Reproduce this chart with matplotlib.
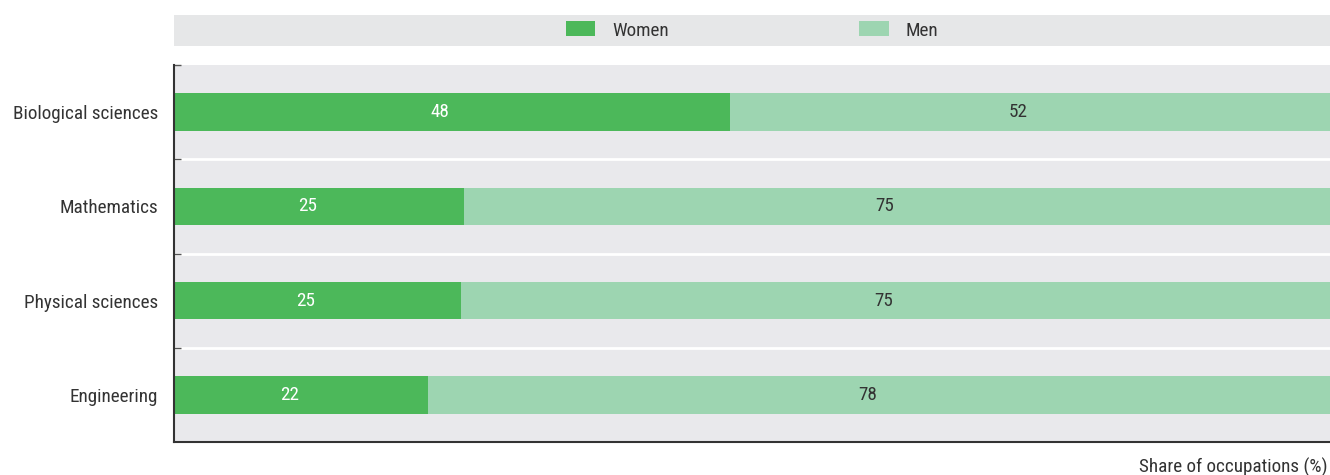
import numpy as np
import matplotlib.pyplot as plt
from matplotlib.patches import Rectangle, Patch
from matplotlib import font_manager

# -----------------------------
# Data
# -----------------------------
fields = ["Biological sciences", "Mathematics", "Physical sciences", "Engineering"]
women = [48.1, 25.1, 24.8, 22.0]
men = [51.9, 74.9, 75.2, 78.0]
women_labels = ["48", "25", "25", "22"]
men_labels = ["52", "75", "75", "78"]

# -----------------------------
# Style
# -----------------------------
names = {f.name for f in font_manager.fontManager.ttflist}
family = ["Roboto", "DejaVu Sans"]
for cand in ["Roboto Condensed", "Liberation Sans Narrow"]:
    if cand in names:
        family = [cand, "DejaVu Sans"]
        break
plt.rcParams["font.family"] = family
fs = 13.8
plt.rcParams["font.size"] = fs

c_women = "#4cb85a"
c_men = "#9dd5b1"
bg = "#e9e9ec"
txt = "#333333"

fig = plt.figure(figsize=(13.3, 4.75), dpi=100)
ax = fig.add_axes([174 / 1330, 1 - 442 / 475, 1 - 174 / 1330, 377 / 475])
ax.set_facecolor(bg)

y = np.arange(len(fields))
ax.barh(y, women, height=0.4, color=c_women, zorder=2)
ax.barh(y, men, left=women, height=0.4, color=c_men, zorder=2)

# value labels sit a little left of the segment centre
for i in range(len(fields)):
    ax.annotate(women_labels[i], (women[i] / 2, y[i]), xytext=(-8.6, 0),
                textcoords="offset points", ha="center", va="center",
                color="white", fontsize=fs, zorder=3)
    ax.annotate(men_labels[i], (women[i] + men[i] / 2, y[i]), xytext=(-8.6, 0),
                textcoords="offset points", ha="center", va="center",
                color=txt, fontsize=fs, zorder=3)

# white row separators
for b in np.arange(0.5, len(fields) - 1, 1.0):
    ax.axhline(b, color="white", lw=2, zorder=1)

ax.set_xlim(0, 100)
ax.set_ylim(len(fields) - 0.5, -0.5)
ax.set_yticks(y)
ax.set_yticklabels(fields, color=txt)
ax.tick_params(axis="y", length=0, pad=11.5)
ax.set_yticks(np.arange(-0.5, len(fields) - 1, 1.0), minor=True)
ax.tick_params(axis="y", which="minor", length=5, width=1, color="#555555", direction="in")
ax.set_xticks([])

for s in ["top", "right"]:
    ax.spines[s].set_visible(False)
for s in ["left", "bottom"]:
    ax.spines[s].set_color("#333333")
    ax.spines[s].set_linewidth(1.5)

fig.text(1328 / 1330, 1 - 467 / 475, "Share of occupations (%)", ha="right", va="center",
         color=txt, fontsize=fs)

# legend band
fig.patches.append(Rectangle((174 / 1330, 1 - 46 / 475), 1 - 174 / 1330, 31 / 475,
                             transform=fig.transFigure, facecolor="#e6e7e8",
                             edgecolor="none", zorder=0))
handles = [Patch(facecolor=c_women, label="Women"), Patch(facecolor=c_men, label="Men")]
leg = fig.legend(handles=handles, loc="center", bbox_to_anchor=(0.5654, 1 - 30.5 / 475),
                 ncol=2, frameon=False, handlelength=1.56, handleheight=0.83,
                 handletextpad=0.89, columnspacing=9.9, fontsize=fs)
for t in leg.get_texts():
    t.set_color(txt)

fig.savefig("out.png", dpi=100)
